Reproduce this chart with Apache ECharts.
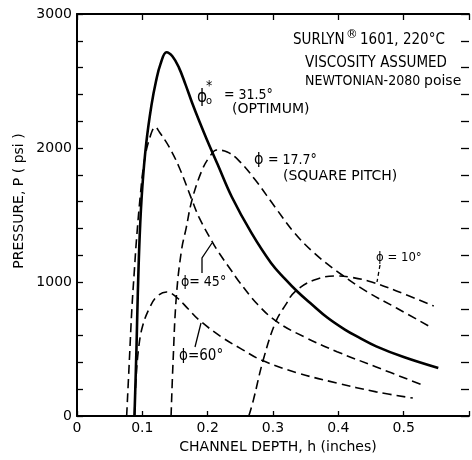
<!DOCTYPE html>
<html>
<head>
<meta charset="utf-8">
<title>Surlyn 1601 pressure vs channel depth</title>
<script src="https://cdn.jsdelivr.net/npm/echarts/dist/echarts.min.js"></script>
<style>
    body { margin: 0; background: #fff; }
    #chart { width: 472px; height: 460px; }
</style>
</head>
<body>
<div id="chart"></div>
<script>
    // tick labels shown on the axes
    var xTicks = [0, 0.1, 0.2, 0.3, 0.4, 0.5];
    var yTicks = [0, 1000, 2000, 3000];

    // [channel depth h (in), pressure P (psi)]
    var phiOptimum = [[0.088, 0], [0.091, 500], [0.093, 900], [0.096, 1350], [0.100, 1709], [0.106, 2037],
        [0.114, 2320], [0.121, 2500], [0.128, 2630], [0.137, 2715], [0.146, 2685], [0.156, 2600],
        [0.166, 2475], [0.176, 2340], [0.188, 2190], [0.199, 2060], [0.215, 1880], [0.237, 1634],
        [0.267, 1366], [0.297, 1142], [0.318, 1025], [0.338, 925], [0.360, 830], [0.383, 735],
        [0.410, 645], [0.430, 590], [0.458, 520], [0.500, 440], [0.553, 358]];
    var phi45 = [[0.076, 0], [0.080, 400], [0.084, 800], [0.088, 1100], [0.091, 1313], [0.097, 1650],
        [0.103, 1900], [0.111, 2070], [0.120, 2157], [0.126, 2120], [0.141, 2008], [0.156, 1860],
        [0.176, 1612], [0.187, 1480], [0.207, 1300], [0.217, 1220], [0.237, 1080], [0.247, 1010],
        [0.277, 830], [0.307, 700], [0.348, 590], [0.398, 480], [0.458, 366], [0.529, 231]];
    var phi60 = [[0.088, 0], [0.090, 250], [0.094, 492], [0.100, 664], [0.111, 806], [0.122, 890],
        [0.137, 925], [0.152, 888], [0.170, 800], [0.187, 716], [0.221, 590], [0.250, 505],
        [0.282, 418], [0.338, 321], [0.398, 246], [0.458, 180], [0.514, 134]];
    var phiSquare = [[0.144, 0], [0.147, 400], [0.152, 888], [0.160, 1239], [0.167, 1400], [0.176, 1612],
        [0.191, 1830], [0.203, 1935], [0.214, 1985], [0.230, 1970], [0.247, 1910], [0.273, 1761],
        [0.303, 1560], [0.333, 1366], [0.363, 1216], [0.398, 1080], [0.443, 930], [0.489, 806],
        [0.539, 670]];
    var phi10 = [[0.263, 0], [0.270, 119], [0.285, 418], [0.304, 701], [0.320, 835], [0.333, 925],
        [0.363, 1015], [0.398, 1045], [0.420, 1035], [0.451, 1000], [0.489, 933], [0.546, 821]];

    var NARROW = '"DejaVu Sans Condensed", "Liberation Sans Narrow", "DejaVu Sans", sans-serif';
    var WIDE = '"DejaVu Sans", sans-serif';

    function txt(x, y, text, size, family, align) {
        return {
            type: 'text', x: x, y: y, z: 100,
            style: { text: text, fill: '#000', font: size + 'px ' + (family || NARROW), align: align || 'left', verticalAlign: 'middle' }
        };
    }

    function pointer(points, dashed) {
        return {
            type: 'polyline', z: 100,
            shape: { points: points },
            style: { stroke: '#000', lineWidth: 1.3, fill: null, lineDash: dashed ? [4, 3] : null }
        };
    }

    function curve(name, data, solid) {
        return {
            name: name,
            type: 'line',
            data: data,
            showSymbol: false,
            smooth: 0.4,
            lineStyle: solid ? { color: '#000', width: 2.6 } : { color: '#000', width: 1.6, type: [9, 5] }
        };
    }

    var chart = echarts.init(document.getElementById('chart'));

    var tickStyle = { color: '#000', width: 1.3 };
    var lineStyle = { color: '#000', width: 2 };

    var option = {
        animation: false,
        backgroundColor: '#fff',
        grid: { left: 77, top: 14, width: 396, height: 402, containLabel: false },
        xAxis: [
            {
                type: 'value', min: 0, max: 0.6, interval: 0.1, position: 'bottom',
                axisLine: { onZero: false, lineStyle: lineStyle },
                axisTick: { inside: true, length: 5, lineStyle: tickStyle },
                splitLine: { show: false },
                axisLabel: {
                    color: '#000', fontSize: 14, fontFamily: WIDE, margin: 5,
                    formatter: function (v) {
                        var r = Math.round(v * 10) / 10;
                        if (xTicks.indexOf(r) < 0) return '';
                        return r === 0 ? '0' : r.toFixed(1);
                    }
                }
            },
            {
                type: 'value', min: 0, max: 0.6, interval: 0.1, position: 'top',
                axisLine: { onZero: false, lineStyle: lineStyle },
                axisTick: { inside: true, length: 6, lineStyle: tickStyle },
                splitLine: { show: false },
                axisLabel: { show: false }
            }
        ],
        yAxis: [
            {
                type: 'value', min: 0, max: 3000, interval: 200, position: 'left',
                axisLine: { show: true, onZero: false, lineStyle: lineStyle },
                axisTick: { show: true, inside: true, length: 6, lineStyle: tickStyle },
                splitLine: { show: false },
                axisLabel: {
                    color: '#000', fontSize: 14, fontFamily: WIDE, margin: 5,
                    formatter: function (v) { return yTicks.indexOf(v) >= 0 ? String(v) : ''; }
                }
            },
            {
                // right frame: only the short inward ticks are visible in the picture
                type: 'value', min: 0, max: 3000, interval: 200, position: 'right',
                axisLine: { show: false, onZero: false },
                axisTick: { show: true, inside: true, length: 8, lineStyle: tickStyle },
                splitLine: { show: false },
                axisLabel: { show: false }
            }
        ],
        series: [
            curve('31.5 optimum', phiOptimum, true),
            curve('45', phi45, false),
            curve('60', phi60, false),
            curve('17.7', phiSquare, false),
            curve('10', phi10, false)
        ],
        graphic: [
            txt(293, 40, 'SURLYN', 15),
            txt(346, 35, '®', 13),
            txt(360, 40, '1601, 220°C', 15),
            txt(305, 63, 'VISCOSITY ASSUMED', 15),
            txt(305, 81, 'NEWTONIAN-2080', 14),
            txt(424, 81, 'poise', 14, WIDE),

            txt(197, 98, 'ϕ', 17),
            txt(206, 86, '*', 14),
            txt(206, 101, 'o', 11),
            txt(224, 95, '= 31.5°', 14),
            txt(232, 109, '(OPTIMUM)', 14, WIDE),

            txt(254, 160, 'ϕ', 16),
            txt(268, 160, '= 17.7°', 14),
            txt(283, 176, '(SQUARE PITCH)', 14, WIDE),

            txt(181, 282, 'ϕ= 45°', 14),
            pointer([[202, 273], [202, 258], [212, 243]]),

            txt(179, 356, 'ϕ=60°', 15),
            pointer([[195, 347], [201, 323]]),

            txt(376, 258, 'ϕ = 10°', 13),
            pointer([[380, 265], [377, 282]], true),

            {
                type: 'text', x: 19, y: 201, rotation: Math.PI / 2, z: 100,
                style: { text: 'PRESSURE, P ( psi )', fill: '#000', font: '14px ' + WIDE, align: 'center', verticalAlign: 'middle' }
            },
            txt(278, 447, 'CHANNEL DEPTH, h (inches)', 14, WIDE, 'center')
        ]
    };

    chart.setOption(option);
</script>
</body>
</html>
